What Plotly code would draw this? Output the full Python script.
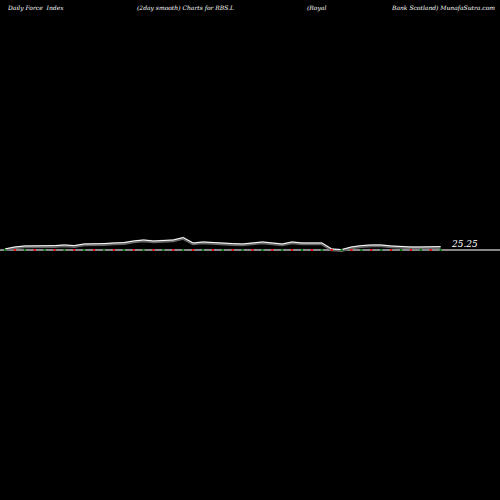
import plotly.graph_objects as go

days = list(range(45))
force = [25.05, 25.15, 25.2, 25.2, 25.2, 25.22, 25.25, 25.22, 25.3, 25.3,
         25.32, 25.35, 25.37, 25.45, 25.5, 25.45, 25.47, 25.5, 25.62, 25.35,
         25.4, 25.37, 25.32, 25.32, 25.3, 25.35, 25.4, 25.35, 25.3, 25.4,
         25.35, 25.35, 25.35, 25.05, 25.02, 25.15, 25.22, 25.25, 25.25, 25.2,
         25.17, 25.15, 25.15, 25.15, 25.17]
dot_colors = ["green", "red"] * 22 + ["green"]
baseline = 25.0
label = "25.25"

x = [5 + 9.9 * d for d in days]
fig = go.Figure()
fig.add_trace(go.Scatter(x=[0, 500], y=[baseline, baseline], mode="lines",
                         line=dict(color="#888", width=2), hoverinfo="skip"))
fig.add_trace(go.Scatter(x=x, y=[v - 0.04 for v in force], mode="lines",
                         line=dict(color="#666", width=3)))
fig.add_trace(go.Scatter(x=x, y=force, mode="lines",
                         line=dict(color="white", width=1)))
fig.add_trace(go.Scatter(x=x, y=[baseline] * len(x), mode="markers",
                         marker=dict(color=dot_colors, size=2, symbol="square")))
fig.add_annotation(x=449, y=25.3, text="<i>" + label + "</i>", showarrow=False,
                   xanchor="left",
                   font=dict(color="white", size=9, family="DejaVu Serif"))
tf = dict(color="white", size=6, family="DejaVu Serif")
for t, xx, anc in [("Daily Force  Index", 5, "left"),
                   ("(2day smooth) Charts for RBS.L", 135, "left"),
                   ("(Royal", 305, "left"),
                   ("Bank Scotland) MunafaSutra.com", 497, "right")]:
    fig.add_annotation(x=xx, y=37.1, text="<i>" + t + "</i>", showarrow=False,
                       xanchor=anc, font=tf)
fig.update_layout(width=500, height=500, margin=dict(l=0, r=0, t=0, b=0),
                  paper_bgcolor="black", plot_bgcolor="black", showlegend=False,
                  xaxis=dict(range=[0, 500], visible=False),
                  yaxis=dict(range=[12.5, 37.5], visible=False))
fig.write_html("out.html", config={"displayModeBar": False},
               post_script="document.body.style.margin='0';document.body.style.background='black';")
